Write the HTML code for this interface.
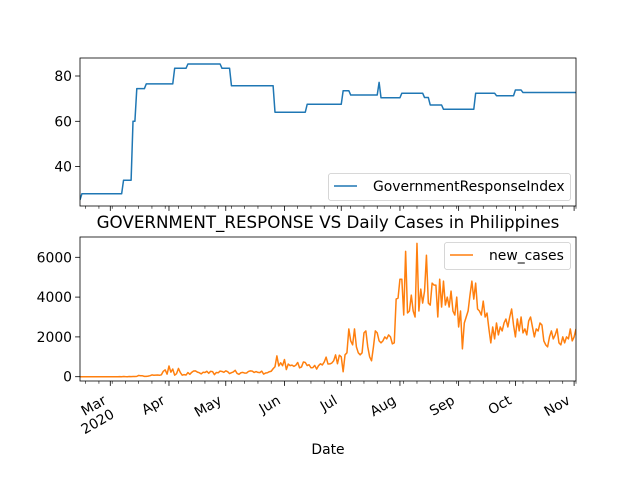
<!DOCTYPE html>
<html><head><meta charset="utf-8"><style>
html,body{margin:0;padding:0;background:#fff;}
svg{display:block;font-family:"DejaVu Sans","Liberation Sans",sans-serif;}
</style></head><body>
<svg id="fig" width="640" height="480" viewBox="0 0 640 480" xmlns="http://www.w3.org/2000/svg"></svg>
<script>
// ---- data ----
const startDate = "2020-02-14";
const monthLabels = ["Mar\n2020","Apr","May","Jun","Jul","Aug","Sep","Oct","Nov"];
const monthDays = [16,47,77,108,138,169,200,230,261]; // day index from start
const griStepDays = [0,1,23,28,30,35,50,57,75,80,103,120,139,143,158,159,170,182,185,192,209,220,230,234];
const griStepValues = [25.3,28,34,60,74.4,76.5,83.4,85.3,83.4,75.7,64,67.5,73.5,71.6,77.2,70.4,72.4,70.5,67.2,65.3,72.4,71.3,73.8,72.7];
const griTicks = [40,60,80];
const casesTicks = [0,2000,4000,6000];
const newCases = [
0,0,0,0,0,0,0,0,0,0,0,0,0,0,0,0,0,0,0,0,0,3,0,10,2,0,10,3,7,12,16,
64,47,45,15,16,30,50,90,73,82,84,71,96,272,343,128,538,
227,385,76,152,414,206,76,106,84,206,119,220,284,291,230,200,140,221,209,271,172,271,258,102,211,198,284,262,220,295,
252,156,202,242,320,163,120,199,216,181,187,264,292,278,213,258,215,205,279,130,184,199,250,274,400,500,1046,539,700,552,862,
359,634,557,583,518,578,714,444,490,740,713,560,601,450,457,567,383,555,648,591,734,985,636,643,686,802,1096,652,1080,1000,
250,
1100,1200,2400,1800,1600,2400,1500,1200,1100,1200,2200,2300,1500,1000,800,1500,2300,2200,1800,1700,1800,2000,1900,2100,2000,1650,1700,3900,3950,4900,
4900,3100,6300,3200,3300,4100,3300,3000,6700,3300,4400,3700,4300,6100,3700,3600,4700,4600,
4600,3000,4900,3500,4800,3600,4000,3500,4300,3300,3100,4000,2500,3300,1400,2700,3000,3300,4100,4800,
3900,4700,3400,3300,3100,3800,3000,3200,2400,1700,2500,1900,2700,2100,2500,2300,2700,2900,2500,3000,
3400,2600,2000,2900,2300,3000,2200,2400,2100,2800,3000,2500,2000,2400,2300,2700,2600,1800,1600,1500,
2000,2300,1900,2100,2400,1700,1600,2000,1700,2000,1900,2400,1800,2000,2400];

// ---- layout ----
const NS="http://www.w3.org/2000/svg";
const svg=document.getElementById('fig');
const L=80,R=576;
const T1=58,B1=206,T2=237,B2=381;
const FS=13.9;
const nDays=newCases.length-1;
const x=d=>L+(d/nDays)*(R-L);
const y1=v=>76+(80-v)*(45.3/20);
const y2=v=>376.7-v*(119.4/6000);
function el(tag,attrs,parent){const e=document.createElementNS(NS,tag);for(const k in attrs)e.setAttribute(k,attrs[k]);(parent||svg).appendChild(e);return e;}

const gri=[];
for(let d=0;d<=nDays;d++){let v=griStepValues[0];for(let i=0;i<griStepDays.length;i++){if(griStepDays[i]<=d)v=griStepValues[i];}gri.push(v);}

function drawAxes(top,bottom,name,yf,ticks){
  const g=el('g',{});
  
  
  ticks.forEach(t=>{const yy=yf(t);
    const tk=el('line',{x1:L-4.9,x2:L,y1:yy,y2:yy,stroke:'#000','stroke-width':0.8},g);
    
    
    const tx=el('text',{x:L-8,y:yy+5,'font-size':FS,'text-anchor':'end',fill:'#000'},g);
    tx.textContent=t;
    
    
  });
  monthDays.forEach(d=>{const tk=el('line',{x1:x(d),x2:x(d),y1:bottom,y2:bottom+4.9,stroke:'#000','stroke-width':0.8},g);
    
    });
  for(let d=3;d<=nDays;d+=7){ if(monthDays.indexOf(d)>=0)continue;
    const tk=el('line',{x1:x(d),x2:x(d),y1:bottom,y2:bottom+2.8,stroke:'#000','stroke-width':0.6},g);
    
    }
  return g;
}
function frame(top,bottom,name){
  const r=el('rect',{x:L,y:top,width:R-L,height:bottom-top,fill:'none',stroke:'#000','stroke-width':0.8});
  
  
}

// top chart
drawAxes(T1,B1,'top-axes',y1,griTicks);
const gp=el('clipPath',{id:'c1'});el('rect',{x:L,y:T1,width:R-L,height:B1-T1},gp);
let p1=gri.map((v,i)=>(i?'L':'M')+x(i).toFixed(2)+','+y1(v).toFixed(2)).join('');
const line1=el('path',{d:p1,fill:'none',stroke:'#1f77b4','stroke-width':1.5,'clip-path':'url(#c1)','stroke-linejoin':'round'});


frame(T1,B1,'top-axes-frame');
const lg1=el('g',{});


el('rect',{x:328.5,y:173.5,width:242,height:27,rx:2.5,fill:'#fff','fill-opacity':0.8,stroke:'#ccc','stroke-width':0.8},lg1);
el('line',{x1:334,x2:357,y1:186,y2:186,stroke:'#1f77b4','stroke-width':1.5},lg1);
const lt1=el('text',{x:373,y:191,'font-size':FS,fill:'#000'},lg1);lt1.textContent='GovernmentResponseIndex';

// title
const title=el('text',{x:328,y:228,'font-size':16.7,'text-anchor':'middle',fill:'#000'});
title.textContent='GOVERNMENT_RESPONSE VS Daily Cases in Philippines';



// bottom chart
drawAxes(T2,B2,'bottom-axes',y2,casesTicks);
const gp2=el('clipPath',{id:'c2'});el('rect',{x:L,y:T2,width:R-L,height:B2-T2},gp2);
let p2=newCases.map((v,i)=>(i?'L':'M')+x(i).toFixed(2)+','+y2(v).toFixed(2)).join('');
const line2=el('path',{d:p2,fill:'none',stroke:'#ff7f0e','stroke-width':1.5,'clip-path':'url(#c2)','stroke-linejoin':'round'});


frame(T2,B2,'bottom-axes-frame');
const lg2=el('g',{});


el('rect',{x:444.5,y:242.5,width:126,height:27,rx:2.5,fill:'#fff','fill-opacity':0.8,stroke:'#ccc','stroke-width':0.8},lg2);
el('line',{x1:450,x2:473,y1:255,y2:255,stroke:'#ff7f0e','stroke-width':1.5},lg2);
const lt2=el('text',{x:489,y:260,'font-size':FS,fill:'#000'},lg2);lt2.textContent='new_cases';

monthLabels.forEach((lab,i)=>{
  const tx=x(monthDays[i]);
  const lines=lab.split('\n');
  const t=el('text',{'font-size':FS,'text-anchor':'end',fill:'#000',transform:`translate(${tx-3},${B2+22}) rotate(-30)`});
  
  
  lines.forEach((ln,j)=>{const s=el('tspan',{x:0,dy:j?16:0},t);s.textContent=ln;});
});
const xl=el('text',{x:328,y:454,'font-size':FS,'text-anchor':'middle',fill:'#000'});
xl.textContent='Date';


</script>
</body></html>
